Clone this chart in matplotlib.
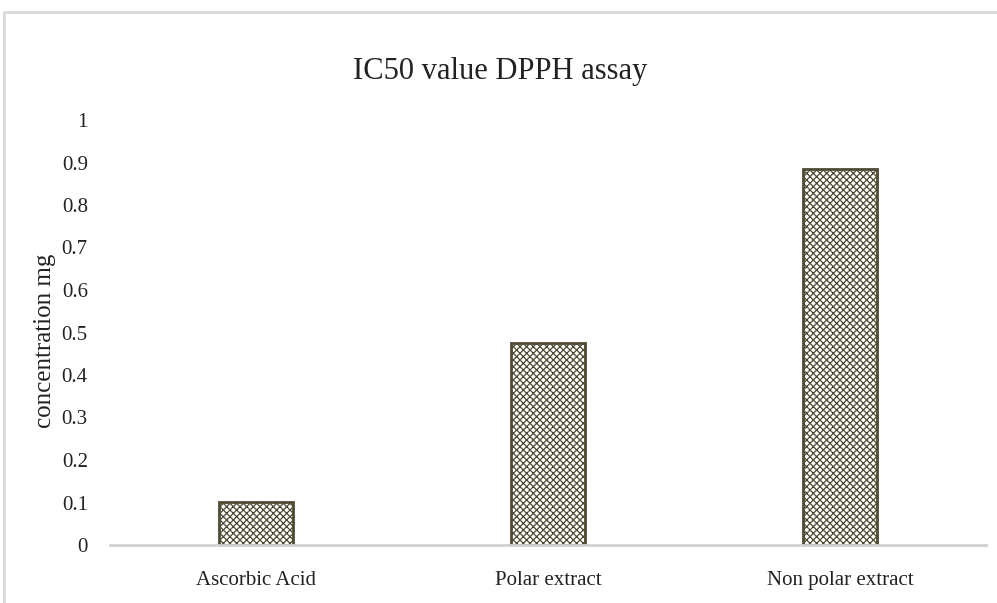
import matplotlib
matplotlib.use("Agg")
import matplotlib.pyplot as plt
from matplotlib.patches import Rectangle

categories = ["Ascorbic Acid", "Polar extract", "Non polar extract"]
values = [0.102, 0.475, 0.885]
yticks = [0, 0.1, 0.2, 0.3, 0.4, 0.5, 0.6, 0.7, 0.8, 0.9, 1]
ytick_labels = ["0", "0.1", "0.2", "0.3", "0.4", "0.5", "0.6", "0.7", "0.8", "0.9", "1"]

plt.rcParams['font.family'] = ['Liberation Serif', 'DejaVu Serif']
plt.rcParams['hatch.linewidth'] = 0.9

W, H = 997, 603
fig = plt.figure(figsize=(W/100, H/100), dpi=100)

# outer chart border (light gray), cropped at right and bottom
fig.patches.append(Rectangle((4/W, -0.05), 1.1, (H-12)/H + 0.05, transform=fig.transFigure,
                             fill=False, edgecolor='#d9d9d9', linewidth=2, zorder=0))

ax = fig.add_axes([110/W, (H-545)/H, (986-110)/W, (545-120)/H])
x = range(len(categories))
ax.bar(x, values, width=0.255, color='white', edgecolor='#4f4a33', hatch='xxxxx',
       linewidth=2, zorder=2)
ax.set_xlim(-0.5, 2.5)
ax.set_ylim(0, 1)
ax.set_yticks(yticks)
ax.set_yticklabels(ytick_labels)
ax.set_xticks(list(x))
ax.set_xticklabels(categories)
ax.tick_params(axis='both', length=0, labelsize=15, colors='#222222')
ax.tick_params(axis='y', pad=16)
ax.tick_params(axis='x', pad=19)
for s in ['top', 'right', 'left']:
    ax.spines[s].set_visible(False)
ax.spines['bottom'].set_color('#d0d0d0')
ax.spines['bottom'].set_linewidth(2)
ax.set_ylabel("concentration mg", fontsize=18, color='#222222')
ax.yaxis.set_label_coords(-0.062, 0.48)

fig.text(500/W, (H-72)/H, "IC50 value DPPH assay", ha='center', va='center',
         fontsize=22, color='#222222')

fig.savefig("out.png", dpi=100)
